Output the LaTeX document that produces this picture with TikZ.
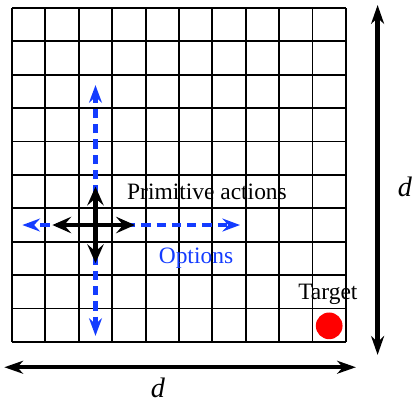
\documentclass[tikz,border=0pt]{standalone}
\usepackage{fontspec}
\setmainfont{Liberation Serif}
\usetikzlibrary{positioning,calc,arrows.meta}
\definecolor{optblue}{RGB}{20,60,255}
\definecolor{goalred}{RGB}{255,0,0}

\begin{document}
\begin{tikzpicture}[x=1cm, y=1cm,
    cellline/.style={line width=1.6pt},
    prim/.style={line width=4.2pt, -{Stealth[length=16pt,width=14pt,inset=6pt]}},
    opt/.style={optblue, line width=4pt, dash pattern=on 8pt off 5pt,
                -{Stealth[length=15pt,width=11pt,inset=5pt]}},
    dimline/.style={line width=3.8pt,
                {Stealth[length=16pt,width=11pt,inset=5pt]}-{Stealth[length=16pt,width=11pt,inset=5pt]}},
    lbl/.style={font=\fontsize{20}{24}\selectfont, inner sep=0pt},
    dlbl/.style={font=\fontsize{24}{29}\selectfont\itshape, inner sep=0pt}]
  \useasboundingbox (-0.36,-1.80) rectangle (12.13,10.24);
  % grid world
  \draw[cellline] (0,0) grid (10,10);
  % agent and action end points
  \coordinate (agent) at (2.5,3.5);
  \coordinate (optup) at (2.5,7.69);
  \coordinate (optdown) at (2.5,0.18);
  \coordinate (optleft) at (0.31,3.5);
  \coordinate (optright) at (6.83,3.5);
  \coordinate (primup) at (2.5,4.65);
  \coordinate (primdown) at (2.5,2.36);
  \coordinate (primleft) at (1.21,3.5);
  \coordinate (primright) at (3.68,3.5);
  % options
  \draw[opt] (agent) -- (optup);
  \draw[opt] (agent) -- (optdown);
  \draw[opt] (agent) -- (optleft);
  \draw[opt] (agent) -- (optright);
  % primitive actions
  \draw[prim] (agent) -- (primup);
  \draw[prim] (agent) -- (primdown);
  \draw[prim] (agent) -- (primleft);
  \draw[prim] (agent) -- (primright);
  \node[lbl] (primlabel) at (5.84,4.5) {Primitive actions};
  \node[lbl, text=optblue] (optlabel) at (5.51,2.52) {Options};
  % target
  \node[lbl] (targetlabel) at (9.46,1.41) {Target};
  \fill[goalred] (9.5,0.48) circle (0.4);
  % size of the world
  \coordinate (bottomleft) at (-0.23,-0.76);
  \coordinate (bottomright) at (10.3,-0.76);
  \coordinate (sidebottom) at (10.95,-0.39);
  \coordinate (sidetop) at (10.95,10.09);
  \draw[dimline] (bottomleft) -- (bottomright);
  \draw[dimline] (sidebottom) -- (sidetop);
  \node[dlbl] (dbottom) at (4.37,-1.38) {d};
  \node[dlbl] (dside) at (11.77,4.64) {d};
\end{tikzpicture}
\end{document}
